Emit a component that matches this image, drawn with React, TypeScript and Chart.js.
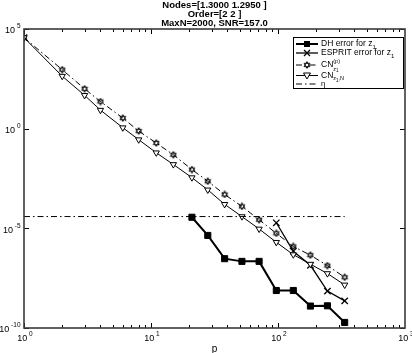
import React, { useEffect, useRef } from 'react';
import { Chart, registerables } from 'chart.js';

Chart.register(...registerables);

// ---- data ----
const pValues = [1, 2, 3, 4, 6, 8, 11, 15, 21, 28, 38, 52, 71, 97, 132, 180, 245, 335];
const dhError = [null, null, null, null, null, null, null, null, 3.6e-5, 4.4e-6, 3.0e-7, 2.2e-7, 2.2e-7, 7.6e-9, 7.6e-9, 1.26e-9, 1.3e-9, 1.9e-10];
const espritError = [3.7e4, null, null, null, null, null, null, null, null, null, null, null, null, 1.9e-5, 7.1e-7, 1.4e-7, 7.1e-9, 2.3e-9];
const cnP = [3.7e4, 9.1e2, 1.0e2, 23, 3.4, 0.76, 0.19, 0.049, 8.9e-3, 2.3e-3, 5.0e-4, 1.26e-4, 2.7e-5, 5.6e-6, 1.23e-6, 4.5e-7, 1.35e-7, 3.5e-8];
const cnN = [3.7e4, 4.3e2, 47, 8.5, 1.12, 0.28, 0.062, 0.016, 3.5e-3, 8.5e-4, 1.6e-4, 3.9e-5, 9.3e-6, 2.0e-6, 4.8e-7, 1.6e-7, 5.4e-8, 1.45e-8];
const etaLevel = 3.9e-5;

const titleLines = ['Nodes=[1.3000 1.2950 ]', 'Order=[2 2 ]', 'MaxN=2000, SNR=157.0'];
const xTickExps = [0, 1, 2, 3];
const yTickExps = [5, 0, -5, -10];
const xLabel = 'p';

const FONT = '"Liberation Sans", Arial, Helvetica, sans-serif';
const DASHDOT = [6, 3, 1.5, 3];

function makeHexagram(size: number): HTMLCanvasElement {
  const c = document.createElement('canvas');
  c.width = size;
  c.height = size;
  const g = c.getContext('2d')!;
  const cx = size / 2;
  const r = size / 2 - 0.6;
  g.strokeStyle = '#000';
  g.lineWidth = 0.9;
  const tri = (start: number) => {
    g.beginPath();
    for (let k = 0; k < 3; k++) {
      const a = ((start + k * 120) * Math.PI) / 180;
      const px = cx + r * Math.cos(a);
      const py = cx + r * Math.sin(a);
      if (k === 0) g.moveTo(px, py);
      else g.lineTo(px, py);
    }
    g.closePath();
    g.stroke();
  };
  tri(-90);
  tri(90);
  return c;
}

function toPoints(arr: (number | null)[]) {
  return pValues.map((p, i) => ({ x: p, y: arr[i] }));
}

type Seg = { t: string; s: number; dy: number; w?: string };
function drawSegs(ctx: CanvasRenderingContext2D, segs: Seg[], x: number, y: number) {
  let cx = x;
  for (const sg of segs) {
    ctx.font = `${sg.w || 'normal'} ${sg.s}px ${FONT}`;
    ctx.fillText(sg.t, cx, y + sg.dy);
    cx += ctx.measureText(sg.t).width;
  }
  return cx;
}
function segsWidth(ctx: CanvasRenderingContext2D, segs: Seg[]) {
  let w = 0;
  for (const sg of segs) {
    ctx.font = `${sg.w || 'normal'} ${sg.s}px ${FONT}`;
    w += ctx.measureText(sg.t).width;
  }
  return w;
}
function powSegs(e: number): Seg[] {
  return [
    { t: '10', s: 9, dy: 0 },
    { t: ' ' + String(e), s: 6.5, dy: -4.5 },
  ];
}

export default function App() {
  const ref = useRef<HTMLCanvasElement | null>(null);

  useEffect(() => {
    const canvas = ref.current;
    if (!canvas) return;
    const hex = makeHexagram(8);

    const decor = {
      id: 'decor',
      afterDraw(chart: any) {
        const ctx: CanvasRenderingContext2D = chart.ctx;
        const { left, right, top, bottom } = chart.chartArea;
        const xs = chart.scales.x;
        const ys = chart.scales.y;
        ctx.save();
        const line = (x1: number, y1: number, x2: number, y2: number) => {
          ctx.beginPath();
          ctx.moveTo(x1, y1);
          ctx.lineTo(x2, y2);
          ctx.stroke();
        };
        // ticks
        ctx.strokeStyle = '#000';
        ctx.lineWidth = 1;
        ctx.setLineDash([]);
        for (let d = 0; d < 3; d++) {
          for (let m = 1; m <= 9; m++) {
            const px = Math.round(xs.getPixelForValue(m * Math.pow(10, d))) + 0.5;
            const len = m === 1 ? 5 : 3;
            line(px, bottom, px, bottom - len);
            line(px, top, px, top + len);
          }
        }
        for (const e of yTickExps) {
          const py = Math.round(ys.getPixelForValue(Math.pow(10, e))) + 0.5;
          line(left, py, left + 5, py);
          line(right, py, right - 5, py);
        }
        // box
        ctx.strokeStyle = '#3a3a3a';
        ctx.lineWidth = 1.6;
        ctx.strokeRect(left, top, right - left, bottom - top);

        // tick labels
        ctx.fillStyle = '#000';
        ctx.textBaseline = 'middle';
        ctx.textAlign = 'left';
        for (const e of yTickExps) {
          const py = ys.getPixelForValue(Math.pow(10, e));
          const segs = powSegs(e);
          const w = segsWidth(ctx, segs);
          drawSegs(ctx, segs, 20.5 - w, py + 2);
        }
        for (const e of xTickExps) {
          const px = xs.getPixelForValue(Math.pow(10, e));
          const segs = powSegs(e);
          const w = segsWidth(ctx, segs);
          drawSegs(ctx, segs, px - w / 2 + 1, bottom + 11);
        }
        // x label
        ctx.textAlign = 'center';
        ctx.font = `10px ${FONT}`;
        ctx.fillText(xLabel, (left + right) / 2, bottom + 21);

        // title
        ctx.font = `bold 9.5px ${FONT}`;
        ctx.textBaseline = 'alphabetic';
        const cxT = (left + right) / 2;
        titleLines.forEach((t, i) => ctx.fillText(t, cxT, 8 + i * 9));

        // legend
        const lx0 = 293, ly0 = 37, lx1 = 403, ly1 = 88;
        ctx.fillStyle = '#fff';
        ctx.fillRect(lx0, ly0, lx1 - lx0, ly1 - ly0);
        ctx.strokeStyle = '#000';
        ctx.lineWidth = 1;
        ctx.strokeRect(lx0 + 0.5, ly0 + 0.5, lx1 - lx0, ly1 - ly0);
        const rows = [44, 53, 65, 75.5, 84];
        const sx0 = 296, sx1 = 318, mx = 307, tx = 321;
        ctx.textAlign = 'left';
        ctx.textBaseline = 'middle';
        ctx.fillStyle = '#000';
        // row 1 DH
        ctx.lineWidth = 2;
        line(sx0, rows[0], sx1, rows[0]);
        ctx.fillRect(mx - 3, rows[0] - 3, 6, 6);
        drawSegs(ctx, [{ t: 'DH error for z', s: 8.5, dy: 0 }, { t: '1', s: 6, dy: 3 }], tx, rows[0]);
        // row 2 ESPRIT
        ctx.lineWidth = 1.3;
        line(sx0, rows[1], sx1, rows[1]);
        line(mx - 3, rows[1] - 3, mx + 3, rows[1] + 3);
        line(mx - 3, rows[1] + 3, mx + 3, rows[1] - 3);
        drawSegs(ctx, [{ t: 'ESPRIT error for z', s: 8.5, dy: 0 }, { t: '1', s: 6, dy: 3 }], tx, rows[1]);
        // row 3 CN^(p)
        ctx.lineWidth = 1;
        ctx.setLineDash(DASHDOT);
        line(sx0, rows[2], sx1, rows[2]);
        ctx.setLineDash([]);
        ctx.fillStyle = '#fff';
        ctx.fillRect(mx - 3, rows[2] - 3, 6, 6);
        ctx.drawImage(hex, mx - 4, rows[2] - 4);
        ctx.fillStyle = '#000';
        const cnEnd = drawSegs(ctx, [{ t: 'CN', s: 8.5, dy: 0 }], tx, rows[2]);
        drawSegs(ctx, [{ t: '(p)', s: 5.5, dy: -4 }], cnEnd, rows[2]);
        drawSegs(ctx, [{ t: 'z', s: 5.5, dy: 4 }, { t: '1', s: 4.5, dy: 6 }], cnEnd, rows[2]);
        // row 4 CN_z1,N
        line(sx0, rows[3], sx1, rows[3]);
        ctx.beginPath();
        ctx.moveTo(mx - 3.5, rows[3] - 2.5);
        ctx.lineTo(mx + 3.5, rows[3] - 2.5);
        ctx.lineTo(mx, rows[3] + 3.5);
        ctx.closePath();
        ctx.fillStyle = '#fff';
        ctx.fill();
        ctx.stroke();
        ctx.fillStyle = '#000';
        const cn2 = drawSegs(ctx, [{ t: 'CN', s: 8.5, dy: 0 }], tx, rows[3]);
        drawSegs(ctx, [{ t: 'z', s: 5.5, dy: 3 }, { t: '1', s: 4.5, dy: 5 }, { t: ',N', s: 5.5, dy: 3 }], cn2, rows[3]);
        // row 5 eta
        ctx.setLineDash(DASHDOT);
        line(sx0, rows[4], sx1, rows[4]);
        ctx.setLineDash([]);
        drawSegs(ctx, [{ t: 'η', s: 7.5, dy: 0 }], tx, rows[4]);

        ctx.restore();
      },
    };

    const chart = new Chart(canvas, {
      type: 'line',
      data: {
        datasets: [
          {
            label: 'eta',
            data: pValues.map((p) => ({ x: p, y: etaLevel })),
            borderColor: '#000',
            borderWidth: 1,
            borderDash: DASHDOT,
            pointRadius: 0,
            fill: false,
          },
          {
            label: 'CN_z1N',
            data: toPoints(cnN),
            borderColor: '#000',
            borderWidth: 1,
            pointStyle: 'triangle',
            rotation: 180,
            pointRadius: 3.6,
            pointBorderWidth: 1,
            pointBorderColor: '#000',
            pointBackgroundColor: '#fff',
            fill: false,
          } as any,
          {
            label: 'CNp',
            data: toPoints(cnP),
            borderColor: '#000',
            borderWidth: 1,
            borderDash: DASHDOT,
            pointStyle: hex,
            pointRadius: 4,
            fill: false,
          },
          {
            label: 'ESPRIT',
            data: toPoints(espritError),
            borderColor: '#000',
            borderWidth: 1.3,
            pointStyle: 'crossRot',
            pointRadius: 4.5,
            pointBorderWidth: 1.3,
            pointBorderColor: '#000',
            spanGaps: false,
            fill: false,
          },
          {
            label: 'DH',
            data: toPoints(dhError),
            borderColor: '#000',
            borderWidth: 2,
            pointStyle: 'rect',
            pointRadius: 4.3,
            pointBorderWidth: 1,
            pointBorderColor: '#000',
            pointBackgroundColor: '#000',
            spanGaps: false,
            fill: false,
          },
        ],
      },
      options: {
        animation: false,
        responsive: false,
        devicePixelRatio: 1,
        layout: { padding: { left: 24, right: 7, top: 29, bottom: 25 } },
        plugins: { legend: { display: false }, tooltip: { enabled: false }, title: { display: false } },
        elements: { line: { tension: 0 } },
        scales: {
          x: { type: 'logarithmic', min: 1, max: 1000, display: false },
          y: { type: 'logarithmic', min: 1e-10, max: 1e5, display: false },
        },
      },
      plugins: [decor],
    });
    return () => chart.destroy();
  }, []);

  return (
    <div style={{ position: 'absolute', left: 0, top: 0, width: 412, height: 353, background: '#fff' }}>
      <canvas ref={ref} width={412} height={353} style={{ display: 'block' }} />
    </div>
  );
}
